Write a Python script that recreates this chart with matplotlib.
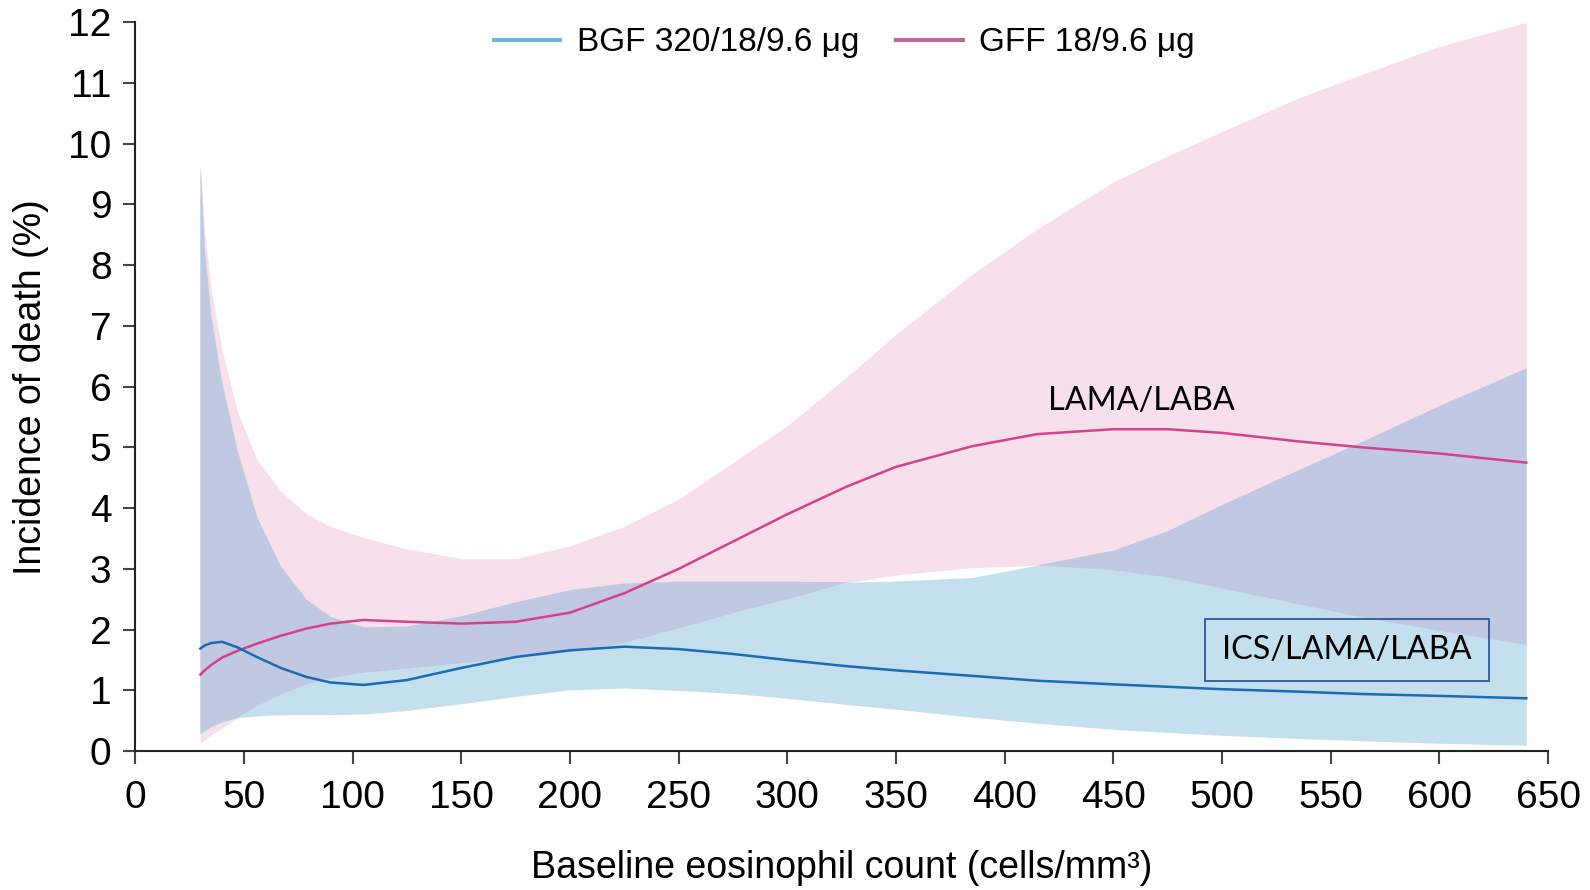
import numpy as np
import matplotlib
matplotlib.use("Agg")
import matplotlib.pyplot as plt
from matplotlib.lines import Line2D
from matplotlib.patches import Rectangle

plt.rcParams["font.family"] = ["Liberation Sans", "DejaVu Sans"]

# Baseline eosinophil count (cells/mm3)
eos = [30, 32, 35, 40, 47, 56, 67, 79, 90, 105, 125, 150, 175, 200, 225, 250,
       275, 300, 327, 350, 385, 415, 450, 475, 500, 535, 565, 600, 640]

# BGF 320/18/9.6 ug (ICS/LAMA/LABA): estimate and 95% CI
bgf = [1.69, 1.74, 1.78, 1.80, 1.71, 1.55, 1.37, 1.22, 1.13, 1.09, 1.17, 1.37, 1.55, 1.66, 1.72,
       1.68, 1.60, 1.50, 1.40, 1.33, 1.24, 1.16, 1.10, 1.06, 1.02, 0.98, 0.94, 0.91, 0.87]
bgf_lower = [0.28, 0.33, 0.40, 0.48, 0.55, 0.58, 0.60, 0.60, 0.60, 0.61, 0.67, 0.78, 0.90, 1.01, 1.04,
             1.00, 0.95, 0.87, 0.77, 0.69, 0.56, 0.46, 0.36, 0.31, 0.26, 0.21, 0.17, 0.13, 0.10]
bgf_upper = [9.63, 8.25, 7.15, 6.06, 4.96, 3.86, 3.04, 2.49, 2.21, 2.04, 2.05, 2.22, 2.45, 2.65, 2.76,
             2.79, 2.79, 2.79, 2.78, 2.80, 2.86, 3.06, 3.30, 3.62, 4.05, 4.62, 5.10, 5.68, 6.30]

# GFF 18/9.6 ug (LAMA/LABA): estimate and 95% CI
gff = [1.26, 1.33, 1.42, 1.54, 1.65, 1.77, 1.90, 2.02, 2.10, 2.16, 2.13, 2.10, 2.13, 2.28, 2.60,
       3.00, 3.45, 3.90, 4.35, 4.68, 5.02, 5.22, 5.30, 5.30, 5.24, 5.10, 5.00, 4.90, 4.75]
gff_lower = [0.14, 0.19, 0.27, 0.38, 0.55, 0.74, 0.93, 1.10, 1.20, 1.29, 1.36, 1.45, 1.53, 1.63, 1.78,
             2.02, 2.27, 2.50, 2.77, 2.90, 3.02, 3.06, 2.98, 2.86, 2.68, 2.42, 2.20, 1.98, 1.75]
gff_upper = [9.63, 8.55, 7.60, 6.60, 5.60, 4.80, 4.28, 3.90, 3.70, 3.52, 3.33, 3.17, 3.17, 3.38, 3.70,
             4.15, 4.75, 5.36, 6.15, 6.86, 7.85, 8.60, 9.37, 9.80, 10.20, 10.75, 11.15, 11.60, 12.00]

x_ticks = list(range(0, 651, 50))
y_ticks = list(range(0, 13))

fig, ax = plt.subplots(figsize=(15.9, 8.9), dpi=100)
fig.subplots_adjust(left=0.085, right=0.9736, bottom=0.156, top=0.975)

# confidence bands, the overlap gets its own mixed colour
ax.fill_between(eos, gff_lower, gff_upper, color="#f7dfeb", lw=0)
ax.fill_between(eos, bgf_lower, bgf_upper, color="#c4e0ee", lw=0)
ov_lo = np.maximum(gff_lower, bgf_lower)
ov_hi = np.minimum(gff_upper, bgf_upper)
ax.fill_between(eos, ov_lo, ov_hi, where=ov_hi > ov_lo, interpolate=True, color="#c1c8e1", lw=0)

ax.plot(eos, gff, color="#d6428a", lw=1.8)
ax.plot(eos, bgf, color="#1b6bb5", lw=1.8)

# callouts
ax.text(463, 5.77, "LAMA/LABA", family=["Lato", "DejaVu Sans"], fontsize=23.3,
        ha="center", va="center", color="black")
ax.text(557.5, 1.66, "ICS/LAMA/LABA", family=["Lato", "DejaVu Sans"], fontsize=23.3,
        ha="center", va="center", color="black")
ax.add_patch(Rectangle((492, 1.15), 131, 1.03, fill=False, ec="#2f5597", lw=1.3))

ax.set_xlim(0, 650)
ax.set_ylim(0, 12)
ax.set_xticks(x_ticks)
ax.set_yticks(y_ticks)
for s in ["top", "right"]:
    ax.spines[s].set_visible(False)
for s in ["left", "bottom"]:
    ax.spines[s].set_linewidth(1.5)
    ax.spines[s].set_color("#222222")
ax.tick_params(axis="both", labelsize=28, length=9, width=1.5, color="#444444")
ax.tick_params(axis="x", pad=12)
ax.tick_params(axis="y", pad=8)

ax.set_xlabel("Baseline eosinophil count (cells/mm³)", fontsize=27, labelpad=24)
ax.set_ylabel("Incidence of death (%)", fontsize=27, labelpad=14)

handles = [Line2D([], [], color="#6cb8da", lw=3),
           Line2D([], [], color="#c0679a", lw=3)]
ax.legend(handles, ["BGF 320/18/9.6 μg", "GFF 18/9.6 μg"], loc="center",
          bbox_to_anchor=(0.531, 0.952), bbox_transform=fig.transFigure, ncol=2,
          frameon=False, fontsize=24, handlelength=2.0, handletextpad=0.5,
          columnspacing=1.1)

fig.savefig("out.png", dpi=100)
